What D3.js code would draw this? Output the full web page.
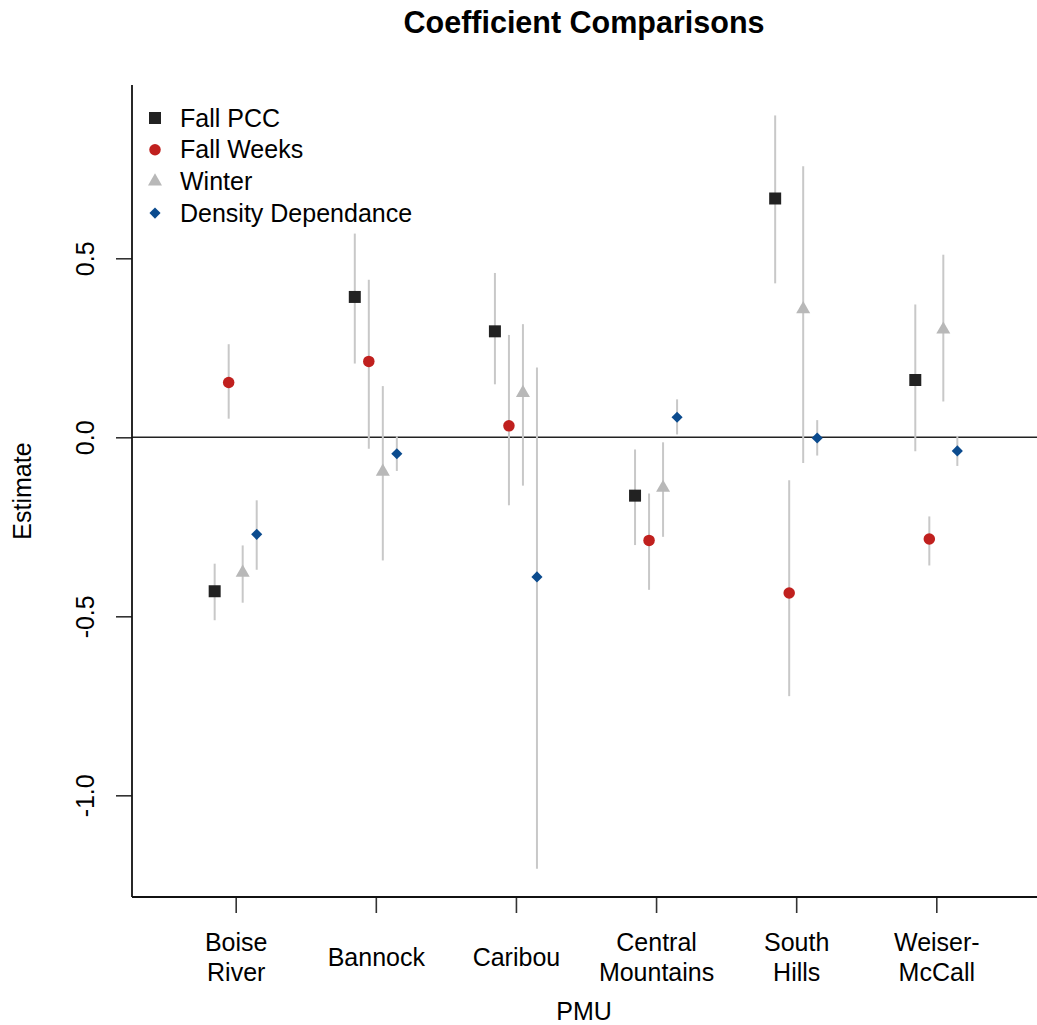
<!DOCTYPE html>
<html>
<head>
<meta charset="utf-8">
<script src="https://cdn.jsdelivr.net/npm/d3@7"></script>
<style>
  html, body { margin: 0; padding: 0; background: #fff; }
  svg { display: block; font-family: "Liberation Sans", Arial, sans-serif; }
</style>
</head>
<body>
<svg id="chart" width="1037" height="1025"></svg>
<script>
// PMU categories (tick labels, one entry per line)
const categories = [
  ["Boise", "River"],
  ["Bannock"],
  ["Caribou"],
  ["Central", "Mountains"],
  ["South", "Hills"],
  ["Weiser-", "McCall"]
];

// Coefficient estimates and interval bounds per series
const seriesNames = ["Fall PCC", "Fall Weeks", "Winter", "Density Dependance"];

const fallPCC    = [-0.430, 0.392, 0.296, -0.163, 0.667, 0.160];
const fallPCCLo  = [-0.511, 0.206, 0.148, -0.301, 0.430, -0.039];
const fallPCCHi  = [-0.353, 0.569, 0.459, -0.034, 0.899, 0.371];

const fallWeeks   = [0.153, 0.212, 0.032, -0.288, -0.435, -0.284];
const fallWeeksLo = [0.052, -0.032, -0.190, -0.426, -0.723, -0.358];
const fallWeeksHi = [0.260, 0.440, 0.286, -0.157, -0.120, -0.221];

const winter   = [-0.378, -0.096, 0.124, -0.141, 0.358, 0.301];
const winterLo = [-0.462, -0.344, -0.135, -0.278, -0.072, 0.100];
const winterHi = [-0.302, 0.143, 0.316, -0.014, 0.757, 0.510];

const density   = [-0.271, -0.046, -0.390, 0.056, -0.002, -0.038];
const densityLo = [-0.370, -0.094, -1.205, 0.008, -0.051, -0.080];
const densityHi = [-0.176, 0.003, 0.195, 0.106, 0.048, 0.004];

const yTicks = [-1.0, -0.5, 0.0, 0.5];

// Styling per series
const seriesStyle = [
  { color: "#222222", symbol: d3.symbolSquare, size: 144, rotate: 0,  offset: -0.15 },
  { color: "#C0201E", symbol: d3.symbolCircle, size: 104, rotate: 0,  offset: -0.05 },
  { color: "#B8B8B8", symbol: d3.symbolTriangle, size: 85, rotate: 0, offset: 0.05 },
  { color: "#0B4B8E", symbol: d3.symbolSquare, size: 62, rotate: 45, offset: 0.15 }
];

const seriesData = [
  [fallPCC, fallPCCLo, fallPCCHi],
  [fallWeeks, fallWeeksLo, fallWeeksHi],
  [winter, winterLo, winterHi],
  [density, densityLo, densityHi]
];

const svg = d3.select("#chart");
const plot = { left: 132, right: 1040, top: 85, bottom: 897 };

// xlim 0.5..6.5 and ylim -1.2..0.9, each widened by 4%
const x = d3.scaleLinear().domain([0.26, 6.74]).range([plot.left, plot.right]);
const y = d3.scaleLinear().domain([-1.284, 0.984]).range([plot.bottom, plot.top]);

const fontSize = 25;
const fmt = v => d3.format(".1f")(v).replace("\u2212", "-");

// Title
svg.append("text")
  .attr("x", 584).attr("y", 33)
  .attr("text-anchor", "middle")
  .attr("font-size", 30.5).attr("font-weight", "bold")
  .attr("fill", "#000")
  .text("Coefficient Comparisons");

// Zero reference line
svg.append("line")
  .attr("x1", plot.left).attr("x2", plot.right)
  .attr("y1", y(0)).attr("y2", y(0))
  .attr("stroke", "#222").attr("stroke-width", 1.6);

// Interval lines then point markers
const pts = [];
seriesData.forEach((s, si) => {
  s[0].forEach((v, ci) => {
    pts.push({ si, ci, v, lo: s[1][ci], hi: s[2][ci] });
  });
});

svg.append("g").selectAll("line")
  .data(pts).join("line")
  .attr("x1", d => x(d.ci + 1 + seriesStyle[d.si].offset))
  .attr("x2", d => x(d.ci + 1 + seriesStyle[d.si].offset))
  .attr("y1", d => y(d.lo))
  .attr("y2", d => y(d.hi))
  .attr("stroke", "#C8C8C8")
  .attr("stroke-width", 2);

svg.append("g").selectAll("path")
  .data(pts).join("path")
  .attr("d", d => d3.symbol(seriesStyle[d.si].symbol, seriesStyle[d.si].size)())
  .attr("transform", d => `translate(${x(d.ci + 1 + seriesStyle[d.si].offset)},${y(d.v)}) rotate(${seriesStyle[d.si].rotate})`)
  .attr("fill", d => seriesStyle[d.si].color);

// Left axis
const yAxis = svg.append("g").attr("transform", `translate(${plot.left},0)`)
  .call(d3.axisLeft(y).tickValues(yTicks).tickSize(16).tickSizeOuter(0).tickFormat(fmt));
yAxis.select(".domain").remove();
yAxis.selectAll(".tick line").attr("stroke", "#333").attr("stroke-width", 1.6);
yAxis.selectAll(".tick text")
  .attr("font-size", fontSize)
  .attr("font-family", "Liberation Sans, Arial, sans-serif")
  .attr("fill", "#000")
  .attr("transform", "rotate(-90)")
  .attr("x", 0)
  .attr("y", -47)
  .attr("dy", "0.35em")
  .attr("text-anchor", "middle");

// Bottom axis
const xAxis = svg.append("g").attr("transform", `translate(0,${plot.bottom})`)
  .call(d3.axisBottom(x).tickValues(d3.range(1, categories.length + 1)).tickSize(16).tickSizeOuter(0).tickFormat(""));
xAxis.select(".domain").remove();
xAxis.selectAll(".tick line").attr("stroke", "#333").attr("stroke-width", 1.6);
xAxis.selectAll(".tick").each(function(d) {
  const lines = categories[d - 1];
  const t = d3.select(this).append("text")
    .attr("font-size", fontSize)
    .attr("fill", "#000")
    .attr("text-anchor", "middle");
  const lh = 30;
  const center = 60;
  lines.forEach((ln, i) => {
    t.append("tspan")
      .attr("x", 0)
      .attr("y", center + (i - (lines.length - 1) / 2) * lh)
      .attr("dy", "0.35em")
      .text(ln);
  });
});

// L-shaped frame
svg.append("line")
  .attr("x1", plot.left).attr("x2", plot.left)
  .attr("y1", plot.top).attr("y2", plot.bottom)
  .attr("stroke", "#111").attr("stroke-width", 1.8);
svg.append("line")
  .attr("x1", plot.left).attr("x2", plot.right)
  .attr("y1", plot.bottom).attr("y2", plot.bottom)
  .attr("stroke", "#111").attr("stroke-width", 1.8);

// Axis titles
svg.append("text")
  .attr("x", 584).attr("y", 1011)
  .attr("dy", "0.35em")
  .attr("text-anchor", "middle")
  .attr("font-size", fontSize)
  .attr("fill", "#000")
  .text("PMU");

svg.append("text")
  .attr("transform", `translate(22,${(plot.top + plot.bottom) / 2}) rotate(-90)`)
  .attr("dy", "0.35em")
  .attr("text-anchor", "middle")
  .attr("font-size", fontSize)
  .attr("fill", "#000")
  .text("Estimate");

// Legend
const legend = svg.append("g");
seriesNames.forEach((name, i) => {
  const cy = 118 + i * 31.7;
  const st = seriesStyle[i];
  legend.append("path")
    .attr("d", d3.symbol(st.symbol, st.size)())
    .attr("transform", `translate(155,${cy}) rotate(${st.rotate})`)
    .attr("fill", st.color);
  legend.append("text")
    .attr("x", 180).attr("y", cy)
    .attr("dy", "0.35em")
    .attr("font-size", fontSize)
    .attr("fill", "#000")
    .text(name);
});
</script>
</body>
</html>
